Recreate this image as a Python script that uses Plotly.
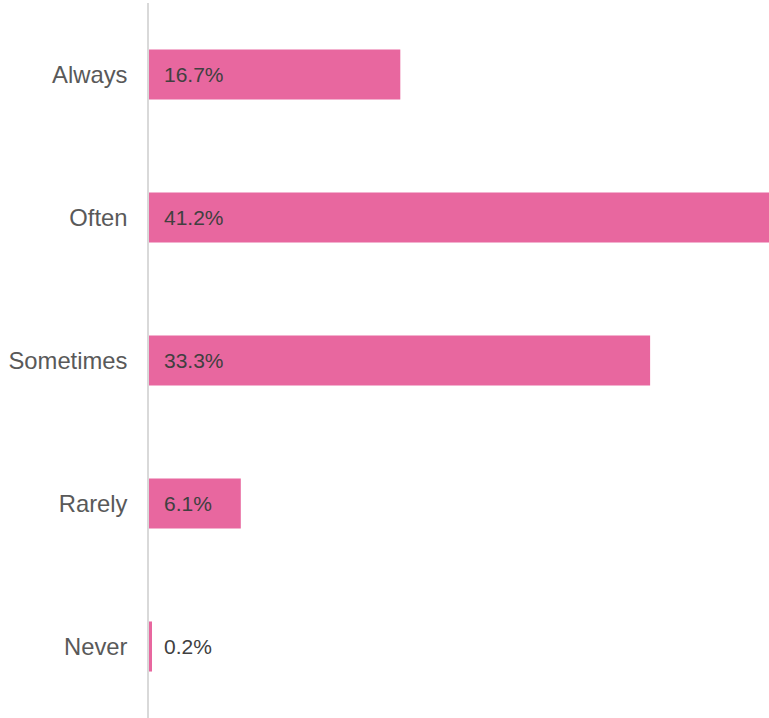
import plotly.graph_objects as go

categories = ["Always", "Often", "Sometimes", "Rarely", "Never"]
values = [16.7, 41.2, 33.3, 6.1, 0.2]
labels = ["16.7%", "41.2%", "33.3%", "6.1%", "0.2%"]

fig = go.Figure()
fig.add_trace(go.Bar(
    x=values, y=categories, orientation="h",
    marker=dict(color="#E8679F", line=dict(width=0)),
    hoverinfo="skip",
))

for c, lab in zip(categories, labels):
    fig.add_annotation(
        x=0, y=c, xref="x", yref="y", text=lab, showarrow=False,
        xanchor="left", yanchor="middle", xshift=13,
        font=dict(family="Liberation Sans, Arial, sans-serif", size=21, color="#404040"),
    )

fig.update_layout(
    width=769, height=718,
    margin=dict(l=149, r=0, t=3, b=0),
    paper_bgcolor="white", plot_bgcolor="white",
    bargap=0.65,
    showlegend=False,
    xaxis=dict(range=[0, 41.2], visible=False, fixedrange=True),
    yaxis=dict(
        categoryorder="array", categoryarray=categories[::-1],
        showline=True, linecolor="#D9D9D9", linewidth=1.5,
        showgrid=False, zeroline=False, ticks="",
        ticklabelstandoff=15,
        tickfont=dict(family="Liberation Sans, Arial, sans-serif", size=23.8, color="#595959"),
    ),
)

fig.write_html("out.html")
